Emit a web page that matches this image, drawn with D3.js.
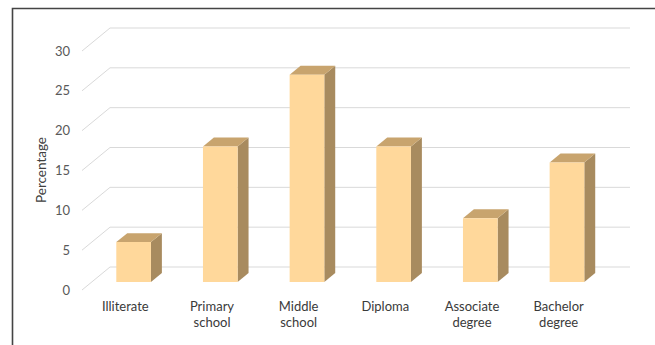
<!DOCTYPE html>
<html>
<head>
<meta charset="utf-8">
<script src="https://cdn.jsdelivr.net/npm/d3@7"></script>
<style>
  html, body { margin: 0; padding: 0; background: #fff; }
  svg { display: block; }
  text { font-family: Lato, "Open Sans", sans-serif; }
</style>
</head>
<body>
<svg id="chart" width="655" height="345"></svg>
<script>
// Education level distribution (percentage of respondents)
const categories = ["Illiterate", "Primary school", "Middle school", "Diploma", "Associate degree", "Bachelor degree"];
const values = [5, 17, 26, 17, 8, 15];
const yTicks = [0, 5, 10, 15, 20, 25, 30];

const svg = d3.select("#chart");

// Back wall of the 3D plot area
const back = { left: 110, right: 630, top: 28, bottom: 267 };
// Depth vector: how far the front plane is shifted from the back wall
const depth = { dx: -28, dy: 23 };
const proj = (x, y, d) => [x + depth.dx * d, y + depth.dy * d];

const x = d3.scaleBand().domain(categories).range([back.left, back.right]).paddingInner(0.6).paddingOuter(0.3);
const band = d3.scaleBand().domain(categories).range([back.left, back.right]);
const y = d3.scaleLinear().domain([0, 30]).range([back.bottom, back.top]);

// Frame
svg.append("path")
  .attr("d", `M12.5,345 L12.5,8.5 L655,8.5`)
  .attr("fill", "none").attr("stroke", "#444").attr("stroke-width", 1.6);

// Gridlines: along the back wall and down the side wall
const grid = svg.append("g").attr("fill", "none").attr("stroke", "#d9d9d9").attr("stroke-width", 1);
yTicks.forEach(t => {
  const yb = y(t);
  const f = proj(back.left, yb, 1);
  grid.append("path").attr("d", `M${f[0]},${f[1]} L${back.left},${yb} L${back.right},${yb}`);
});

// Tick labels on the front plane
svg.append("g").selectAll("text").data(yTicks).join("text")
  .attr("x", 70)
  .attr("y", d => y(d) + depth.dy)
  .attr("dy", "0.35em")
  .attr("text-anchor", "end")
  .attr("font-size", 13)
  .attr("fill", "#595959")
  .text(d => d);

// Axis title
svg.append("text")
  .attr("transform", "translate(46,170) rotate(-90)")
  .attr("text-anchor", "middle")
  .attr("font-size", 13.5)
  .attr("fill", "#404040")
  .text("Percentage");

// Bars: front face at depth dFront, back face at depth dBack
const dFront = 0.65, dBack = 0.26;
const bars = svg.append("g");
categories.forEach((c, i) => {
  const x0 = x(c) - 1.5, x1 = x(c) + x.bandwidth() - 1.5;
  const yTop = y(values[i]), yBot = y(0);
  const fTL = proj(x0, yTop, dFront), fTR = proj(x1, yTop, dFront);
  const fBL = proj(x0, yBot, dFront), fBR = proj(x1, yBot, dFront);
  const bTL = proj(x0, yTop, dBack), bTR = proj(x1, yTop, dBack);
  const bBR = proj(x1, yBot, dBack);
  const g = bars.append("g");
  // right side face
  g.append("path").attr("d", `M${fTR} L${bTR} L${bBR} L${fBR}Z`).attr("fill", "#a88b5f");
  // top face
  g.append("path").attr("d", `M${fTL} L${bTL} L${bTR} L${fTR}Z`).attr("fill", "#c8a46e");
  // front face
  g.append("path").attr("d", `M${fTL} L${fTR} L${fBR} L${fBL}Z`).attr("fill", "#ffd89b");
});

// Category labels on the front plane
const labels = svg.append("g").attr("font-size", 13).attr("fill", "#3a3a3a").attr("text-anchor", "middle");
categories.forEach(c => {
  const cx = band(c) + band.bandwidth() / 2 + depth.dx;
  const words = c.split(" ");
  const t = labels.append("text").attr("x", cx).attr("y", 311);
  words.forEach((w, k) => {
    t.append("tspan").attr("x", cx).attr("dy", k === 0 ? 0 : 16).text(w);
  });
});
</script>
</body>
</html>
